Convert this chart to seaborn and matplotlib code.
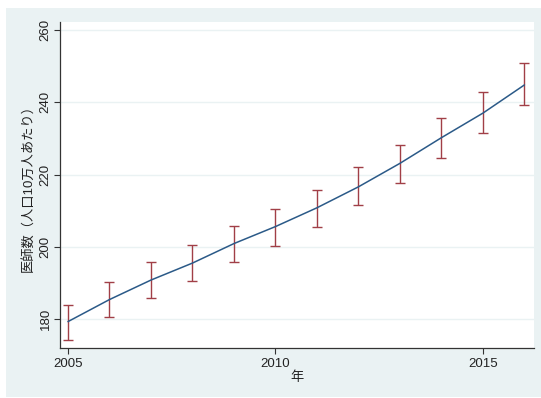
import numpy as np
import pandas as pd
import seaborn as sns
import matplotlib.pyplot as plt
from matplotlib.patches import Rectangle

# 医師数（人口10万人あたり）
years = [2005, 2006, 2007, 2008, 2009, 2010, 2011, 2012, 2013, 2014, 2015, 2016]
doctors = [179.3, 185.4, 190.8, 195.5, 200.9, 205.6, 210.8, 216.6, 223.1, 230.2, 237.0, 244.8]
upper = [184.0, 190.2, 195.8, 200.4, 205.7, 210.5, 215.7, 222.0, 228.2, 235.7, 242.8, 250.8]
lower = [174.3, 180.5, 185.8, 190.5, 195.7, 200.3, 205.5, 211.6, 217.7, 224.7, 231.4, 239.2]

x_ticks = [2005, 2010, 2015]
y_ticks = [180, 200, 220, 240, 260]

BG = '#eaf2f3'
NAVY = '#2b5a88'
MAROON = '#a13f47'


def main():
    sns.set_style('white')
    plt.rcParams['font.family'] = ['Liberation Sans', 'Noto Sans CJK JP', 'DejaVu Sans']

    df = pd.DataFrame({'year': years, 'doctors': doctors,
                       'upper': upper, 'lower': lower})

    fig = plt.figure(figsize=(5.41, 3.98), dpi=100)
    fig.patch.set_facecolor('white')
    fig.patches.append(Rectangle((0.011, 0.003), 0.989, 0.977,
                                 transform=fig.transFigure,
                                 facecolor=BG, edgecolor='none', zorder=-10))

    ax = fig.add_axes([0.111, 0.1256, 0.876, 0.819])
    ax.set_zorder(1)
    ax.set_facecolor('white')

    # error bars
    ax.errorbar(df['year'], df['doctors'],
                yerr=[df['doctors'] - df['lower'], df['upper'] - df['doctors']],
                fmt='none', ecolor=MAROON, elinewidth=1.0, capsize=3.5,
                capthick=1.0, zorder=2)
    sns.lineplot(data=df, x='year', y='doctors', color=NAVY, linewidth=1.1,
                 ax=ax, zorder=3)

    ax.set_xlim(2004.81, 2016.23)
    ax.set_ylim(172.0, 262.2)
    ax.set_xticks(x_ticks)
    ax.set_yticks(y_ticks)
    ax.grid(axis='y', color=BG, linewidth=1.0)
    ax.grid(axis='x', visible=False)

    for side in ['top', 'right']:
        ax.spines[side].set_visible(False)
    for side in ['left', 'bottom']:
        ax.spines[side].set_color('#333333')
        ax.spines[side].set_linewidth(0.9)

    ax.tick_params(axis='both', direction='out', length=4, width=0.8,
                   color='#333333', labelsize=9.5, labelcolor='#222222')
    ax.tick_params(axis='x', bottom=True, pad=3)
    ax.tick_params(axis='y', left=True, pad=2)
    for lab in ax.get_yticklabels():
        lab.set_rotation(90)
        lab.set_va('center')

    ax.set_xlabel('年', fontsize=9.5, color='#222222', labelpad=1)
    ax.set_ylabel('医師数（人口10万人あたり）', fontsize=9.5, color='#222222',
                  labelpad=4)

    fig.savefig('out.png', dpi=100, facecolor='white')
    plt.close(fig)


if __name__ == "__main__":
    main()
